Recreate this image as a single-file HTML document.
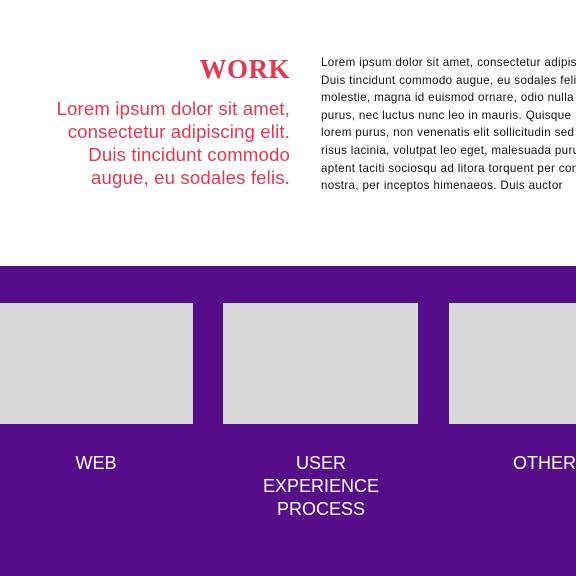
<!DOCTYPE html>
<html><head><style>
body{margin:0;width:576px;height:576px;overflow:hidden;background:#fff;position:relative;font-family:"Liberation Sans",sans-serif}
.a{position:absolute}
#work{right:286px;top:54px;font-family:"Liberation Serif",serif;font-weight:bold;font-size:27px;color:#e5374f;letter-spacing:0.5px}
#red{right:286px;top:97px;text-align:right;color:#e5374f;font-size:18.6px;line-height:23px;white-space:nowrap;letter-spacing:0.15px}
#para{left:321px;top:54px;font-size:11.6px;line-height:17.6px;color:#111;white-space:nowrap;letter-spacing:0.35px}
#band{left:0;top:266px;width:576px;height:310px;background:#560d8a}
.box{background:#d8d8d8;top:303px;height:121px}
.lab{color:#fff;font-size:18px;line-height:23px;text-align:center;top:452px}
</style></head><body>
<div class="a" id="work">WORK</div>
<div class="a" id="red">Lorem ipsum dolor sit amet,<br>consectetur adipiscing elit.<br>Duis tincidunt commodo<br>augue, eu sodales felis.</div>
<div class="a" id="para">Lorem ipsum dolor sit amet, consectetur adipiscing<br>Duis tincidunt commodo augue, eu sodales felis<br>molestie, magna id euismod ornare, odio nulla<br>purus, nec luctus nunc leo in mauris. Quisque<br>lorem purus, non venenatis elit sollicitudin sed<br>risus lacinia, volutpat leo eget, malesuada purus<br>aptent taciti sociosqu ad litora torquent per conubia<br>nostra, per inceptos himenaeos. Duis auctor</div>
<div class="a" id="band"></div>
<div class="a box" style="left:0;width:193px"></div>
<div class="a box" style="left:223px;width:195px"></div>
<div class="a box" style="left:449px;width:127px"></div>
<div class="a lab" style="left:0;width:192px">WEB</div>
<div class="a lab" style="left:222px;width:198px">USER<br>EXPERIENCE<br>PROCESS</div>
<div class="a lab" style="left:513px;text-align:left">OTHER</div>
</body></html>
